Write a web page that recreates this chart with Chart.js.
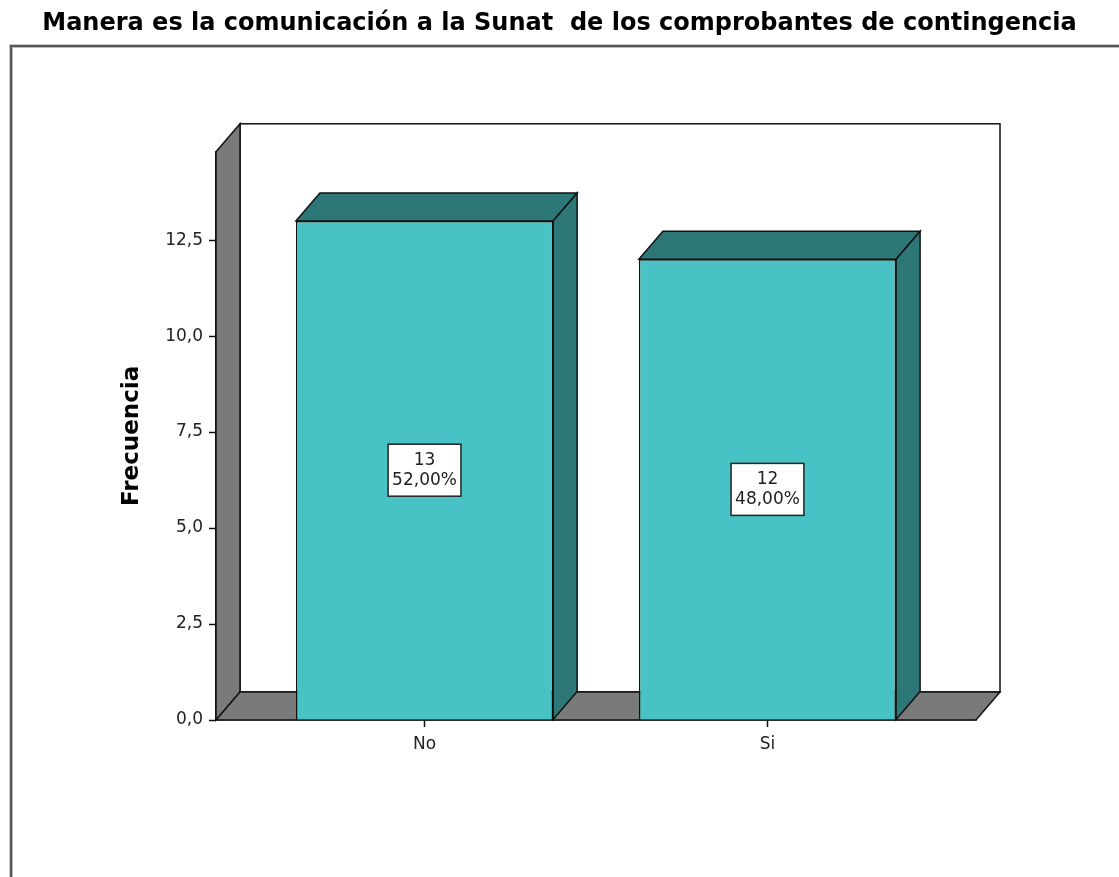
<!DOCTYPE html>
<html>
<head>
<meta charset="utf-8">
<script src="https://cdn.jsdelivr.net/npm/chart.js@4"></script>
<style>
  body { margin: 0; background: #fff; }
  #wrap { position: relative; width: 1119px; height: 877px; }
  #frame { position: absolute; left: 10px; top: 45px; right: -4px; bottom: -4px;
           border-top: 2px solid #555; border-left: 2px solid #555;
           box-shadow: inset 1px 1px 0 #bbb, -1px -1px 0 #ccc; }
  #wrap canvas { position: absolute; left: 0; top: 0; }
</style>
</head>
<body>
<div id="wrap">
  <div id="frame"></div>
  <canvas id="chartCanvas"></canvas>
</div>
<script>
// data
const categories = ['No', 'Si'];
const counts = [13, 12];
const percents = ['52,00%', '48,00%'];
const yTicks = [0, 2.5, 5, 7.5, 10, 12.5];

const frontColor = '#48c2c5';
const darkColor = '#2d7777';
const wallColor = '#7a7a7a';
const depth = { dx: 24, dy: 28 };

// back wall, left wall and floor, then bar tops/sides and value boxes
const box3d = {
    id: 'box3d',
    beforeDatasetsDraw(chart) {
        const { ctx, chartArea: a } = chart;
        const { dx, dy } = depth;
        ctx.save();
        ctx.lineWidth = 1.5;
        ctx.strokeStyle = '#111';
        ctx.fillStyle = '#fff';
        ctx.fillRect(a.left + dx, a.top - dy, a.right - a.left, a.bottom - a.top);
        ctx.strokeRect(a.left + dx, a.top - dy, a.right - a.left, a.bottom - a.top);
        const poly = pts => {
            ctx.beginPath();
            pts.forEach((p, i) => i ? ctx.lineTo(p[0], p[1]) : ctx.moveTo(p[0], p[1]));
            ctx.closePath();
            ctx.fillStyle = wallColor;
            ctx.fill();
            ctx.stroke();
        };
        poly([[a.left, a.top], [a.left + dx, a.top - dy], [a.left + dx, a.bottom - dy], [a.left, a.bottom]]);
        poly([[a.left, a.bottom], [a.left + dx, a.bottom - dy], [a.right + dx, a.bottom - dy], [a.right, a.bottom]]);
        ctx.restore();
    },
    afterDatasetsDraw(chart) {
        const { ctx } = chart;
        const { dx, dy } = depth;
        const meta = chart.getDatasetMeta(0);
        ctx.save();
        ctx.lineWidth = 1.5;
        ctx.strokeStyle = '#111';
        ctx.fillStyle = darkColor;
        meta.data.forEach(bar => {
            const l = bar.x - bar.width / 2, r = bar.x + bar.width / 2;
            const t = bar.y, b = bar.base;
            ctx.beginPath();
            ctx.moveTo(l, t); ctx.lineTo(l + dx, t - dy); ctx.lineTo(r + dx, t - dy); ctx.lineTo(r, t);
            ctx.closePath(); ctx.fill(); ctx.stroke();
            ctx.beginPath();
            ctx.moveTo(r, t); ctx.lineTo(r + dx, t - dy); ctx.lineTo(r + dx, b - dy); ctx.lineTo(r, b);
            ctx.closePath(); ctx.fill(); ctx.stroke();
        });
        ctx.font = '17px "DejaVu Sans"';
        ctx.textAlign = 'center';
        ctx.textBaseline = 'middle';
        const lineH = 20;
        meta.data.forEach((bar, i) => {
            const lines = [String(counts[i]), percents[i]];
            const w = Math.max(...lines.map(s => ctx.measureText(s).width)) + 8;
            const h = lines.length * lineH + 12;
            const cx = bar.x, cy = (bar.y + bar.base) / 2;
            ctx.fillStyle = '#fff';
            ctx.fillRect(cx - w / 2, cy - h / 2, w, h);
            ctx.strokeStyle = '#222';
            ctx.strokeRect(cx - w / 2, cy - h / 2, w, h);
            ctx.fillStyle = '#222';
            lines.forEach((s, k) => ctx.fillText(s, cx, cy - h / 2 + 6 + lineH * (k + 0.5)));
        });
        ctx.restore();
    }
};

const ctx = document.getElementById('chartCanvas').getContext('2d');
new Chart(ctx, {
    type: 'bar',
    data: {
        datasets: [{
            label: 'Frecuencia',
            data: categories.map((c, i) => ({ x: i, y: counts[i] })),
            backgroundColor: frontColor,
            borderColor: '#111',
            borderWidth: 1.5,
            categoryPercentage: 0.75,
            barPercentage: 1
        }]
    },
    options: {
        responsive: true,
        maintainAspectRatio: false,
        animation: false,
        layout: { padding: 0 },
        plugins: {
            legend: { display: false },
            tooltip: { enabled: false },
            title: {
                display: true,
                text: 'Manera es la comunicación a la Sunat  de los comprobantes de contingencia',
                color: '#000',
                font: { family: '"DejaVu Sans"', size: 24, weight: 'bold' },
                padding: { top: 9, bottom: 114 }
            }
        },
        scales: {
            x: {
                type: 'linear',
                offset: false,
                min: -0.608,
                max: 1.608,
                afterBuildTicks: s => { s.ticks = categories.map((c, i) => ({ value: i })); },
                afterFit: s => { s.height = 157; },
                ticks: {
                    callback: v => categories[v],
                    color: '#222',
                    font: { family: '"DejaVu Sans"', size: 17 },
                    padding: 7,
                    maxRotation: 0
                },
                grid: { offset: false, drawOnChartArea: false, drawTicks: true, tickLength: 7, tickColor: '#111', tickWidth: 1.5 },
                border: { display: true, color: '#111', width: 1.5 }
            },
            y: {
                min: 0,
                max: 14.8,
                afterBuildTicks: s => { s.ticks = yTicks.map(v => ({ value: v })); },
                afterFit: s => { s.width = 216; },
                ticks: {
                    callback: v => v.toFixed(1).replace('.', ','),
                    color: '#222',
                    font: { family: '"DejaVu Sans"', size: 17 },
                    padding: 6
                },
                grid: { drawOnChartArea: false, drawTicks: true, tickLength: 7, tickColor: '#111', tickWidth: 1.5 },
                border: { display: true, color: '#111', width: 1.5 },
                title: {
                    display: true,
                    text: 'Frecuencia',
                    color: '#000',
                    font: { family: '"DejaVu Sans"', size: 23, weight: 'bold' },
                    padding: { top: 118 }
                }
            },
            // empty right-hand axis that only reserves the margin beside the plot
            spacer: {
                type: 'linear',
                position: 'right',
                display: true,
                afterFit: s => { s.width = 143; },
                ticks: { display: false },
                grid: { display: false },
                border: { display: false }
            }
        }
    },
    plugins: [box3d]
});
</script>
</body>
</html>
